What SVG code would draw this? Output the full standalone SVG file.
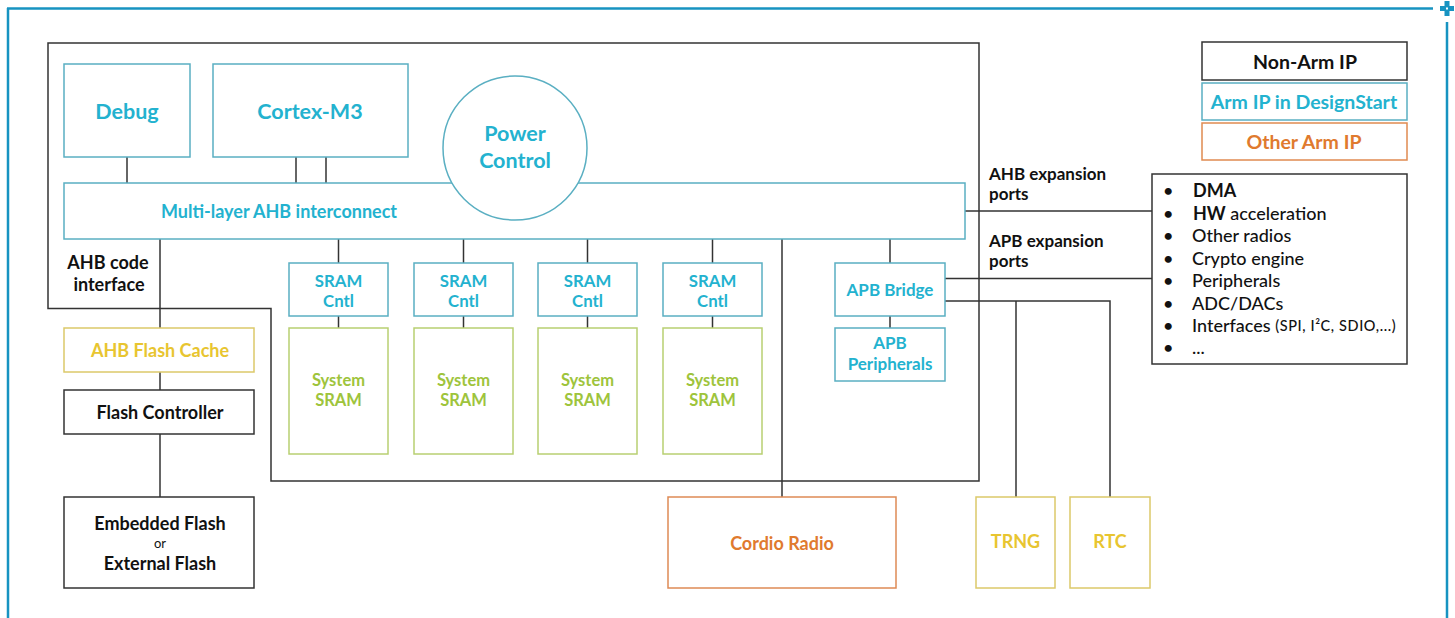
<svg xmlns="http://www.w3.org/2000/svg" width="1455" height="618" viewBox="0 0 1455 618">
<style>
text{font-family:Lato,"Liberation Sans",sans-serif;font-weight:700;text-anchor:middle;dominant-baseline:central}
.ln{stroke:#333;stroke-width:1.5;fill:none}
.teal{fill:#fff;stroke:#5aafc2;stroke-width:1.5}
.tt{fill:#23b2cf}
.blk{fill:#fff;stroke:#333;stroke-width:1.5}
.bt{fill:#111}
.grn{fill:#fff;stroke:#b8cf72;stroke-width:1.5}
.gt{fill:#9ec43c}
.yel{fill:#fff;stroke:#dcc96a;stroke-width:1.5}
.yt{fill:#e8c530}
.org{fill:#fff;stroke:#de8a55;stroke-width:1.5}
.ot{fill:#e07a2e}
.lt{text-anchor:start;fill:#111;font-weight:500}
.pl{text-anchor:start;fill:#111;font-weight:700}
.sm{fill:#111;font-weight:400}
</style>
<g id="frame" fill="none" stroke="#1793c1" stroke-width="2.5">
<line x1="7" y1="8.5" x2="1433" y2="8.5"/>
<line x1="8" y1="8" x2="8" y2="618"/>
<line x1="1447" y1="22" x2="1447" y2="618"/>
</g>
<g id="plus" fill="#1793c1"><rect x="1440" y="6" width="14" height="5"/><rect x="1444.5" y="1" width="5" height="15"/><rect x="1446" y="7.5" width="2" height="2" fill="#fff"/></g>
<g id="soc"><path class="ln" d="M48 43 H979 V481 H271 V308.5 H48 Z"/></g>
<g id="connectors" class="ln">
<line x1="127" y1="157" x2="127" y2="183"/>
<line x1="296" y1="157" x2="296" y2="183"/>
<line x1="326" y1="157" x2="326" y2="183"/>
<line x1="160" y1="239" x2="160" y2="328"/>
<line x1="160" y1="372" x2="160" y2="390"/>
<line x1="160" y1="434" x2="160" y2="497"/>
<line x1="338.5" y1="239" x2="338.5" y2="263"/>
<line x1="463.5" y1="239" x2="463.5" y2="263"/>
<line x1="587.5" y1="239" x2="587.5" y2="263"/>
<line x1="712.5" y1="239" x2="712.5" y2="263"/>
<line x1="338.5" y1="316" x2="338.5" y2="328"/>
<line x1="463.5" y1="316" x2="463.5" y2="328"/>
<line x1="587.5" y1="316" x2="587.5" y2="328"/>
<line x1="712.5" y1="316" x2="712.5" y2="328"/>
<line x1="782" y1="239" x2="782" y2="497"/>
<line x1="890" y1="239" x2="890" y2="263"/>
<line x1="890" y1="316" x2="890" y2="328"/>
<line x1="965" y1="211" x2="1152" y2="211"/>
<line x1="945" y1="278.5" x2="1152" y2="278.5"/>
<polyline points="945,301 1110,301 1110,497"/>
<line x1="1016" y1="301" x2="1016" y2="497"/>
</g>
<g id="debug"><rect class="teal" x="64" y="64" width="126" height="93"/><text class="tt" x="127" y="111" font-size="21.5">Debug</text></g>
<g id="cortex"><rect class="teal" x="213" y="64" width="195" height="93"/><text class="tt" x="310" y="111" font-size="21.5">Cortex-M3</text></g>
<g id="interconnect"><rect class="teal" x="64" y="183" width="901" height="56"/><text class="tt" x="279" y="211" font-size="18">Multi-layer AHB interconnect</text></g>
<g id="power"><circle class="teal" cx="515" cy="148" r="72"/><text class="tt" x="515" y="133" font-size="21.5">Power</text><text class="tt" x="515" y="160" font-size="21.5">Control</text></g>
<g id="ahbcode"><text class="bt" x="108" y="262" font-size="18">AHB code</text><text class="bt" x="109" y="284" font-size="18">interface</text></g>
<g id="flashcache"><rect class="yel" x="64" y="328" width="190" height="44"/><text class="yt" x="160" y="350" font-size="18">AHB Flash Cache</text></g>
<g id="flashctl"><rect class="blk" x="64" y="390" width="190" height="44"/><text class="bt" x="160" y="412" font-size="18">Flash Controller</text></g>
<g id="flash"><rect class="blk" x="64" y="497" width="190" height="91"/><text class="bt" x="160" y="523" font-size="18">Embedded Flash</text><text class="sm" x="160" y="543" font-size="13">or</text><text class="bt" x="160" y="563" font-size="18">External Flash</text></g>
<g id="sramc1"><rect class="teal" x="289" y="263" width="99" height="53"/><text class="tt" x="338.5" y="280" font-size="16.8">SRAM</text><text class="tt" x="338.5" y="300" font-size="16.8">Cntl</text></g>
<g id="sramc2"><rect class="teal" x="414" y="263" width="99" height="53"/><text class="tt" x="463.5" y="280" font-size="16.8">SRAM</text><text class="tt" x="463.5" y="300" font-size="16.8">Cntl</text></g>
<g id="sramc3"><rect class="teal" x="538" y="263" width="99" height="53"/><text class="tt" x="587.5" y="280" font-size="16.8">SRAM</text><text class="tt" x="587.5" y="300" font-size="16.8">Cntl</text></g>
<g id="sramc4"><rect class="teal" x="663" y="263" width="99" height="53"/><text class="tt" x="712.5" y="280" font-size="16.8">SRAM</text><text class="tt" x="712.5" y="300" font-size="16.8">Cntl</text></g>
<g id="sram1"><rect class="grn" x="289" y="328" width="99" height="126"/><text class="gt" x="338.5" y="380" font-size="16.5">System</text><text class="gt" x="338.5" y="400" font-size="16.5">SRAM</text></g>
<g id="sram2"><rect class="grn" x="414" y="328" width="99" height="126"/><text class="gt" x="463.5" y="380" font-size="16.5">System</text><text class="gt" x="463.5" y="400" font-size="16.5">SRAM</text></g>
<g id="sram3"><rect class="grn" x="538" y="328" width="99" height="126"/><text class="gt" x="587.5" y="380" font-size="16.5">System</text><text class="gt" x="587.5" y="400" font-size="16.5">SRAM</text></g>
<g id="sram4"><rect class="grn" x="663" y="328" width="99" height="126"/><text class="gt" x="712.5" y="380" font-size="16.5">System</text><text class="gt" x="712.5" y="400" font-size="16.5">SRAM</text></g>
<g id="apbbridge"><rect class="teal" x="835" y="263" width="110" height="53"/><text class="tt" x="890" y="289" font-size="17">APB Bridge</text></g>
<g id="apbperiph"><rect class="teal" x="835" y="328" width="110" height="53"/><text class="tt" x="890" y="342" font-size="17">APB</text><text class="tt" x="890" y="363" font-size="17">Peripherals</text></g>
<g id="cordio"><rect class="org" x="668" y="497" width="228" height="91"/><text class="ot" x="782" y="543" font-size="18">Cordio Radio</text></g>
<g id="trng"><rect class="yel" x="976" y="497" width="79" height="91"/><text class="yt" x="1015.5" y="541" font-size="18">TRNG</text></g>
<g id="rtc"><rect class="yel" x="1070" y="497" width="80" height="91"/><text class="yt" x="1110" y="541" font-size="18">RTC</text></g>
<g id="portlabels"><text class="pl" x="989" y="173" font-size="17">AHB expansion</text><text class="pl" x="989" y="193" font-size="17">ports</text><text class="pl" x="989" y="240" font-size="17">APB expansion</text><text class="pl" x="989" y="260" font-size="17">ports</text></g>
<g id="list"><rect class="blk" x="1152" y="174" width="255" height="190"/>
<g font-size="18">
<text class="lt" x="1163" y="190">•</text><text class="lt" x="1193" y="190"><tspan font-weight="700">DMA</tspan></text>
<text class="lt" x="1163" y="212.5">•</text><text class="lt" x="1193" y="212.5"><tspan font-weight="700">HW</tspan> acceleration</text>
<text class="lt" x="1163" y="235">•</text><text class="lt" x="1192" y="235">Other radios</text>
<text class="lt" x="1163" y="257.5">•</text><text class="lt" x="1192" y="257.5">Crypto engine</text>
<text class="lt" x="1163" y="280">•</text><text class="lt" x="1192" y="280">Peripherals</text>
<text class="lt" x="1163" y="302.5">•</text><text class="lt" x="1192" y="302.5">ADC/DACs</text>
<text class="lt" x="1163" y="325">•</text><text class="lt" x="1192" y="325">Interfaces <tspan font-size="14.5" letter-spacing="0.6">(SPI, I²C, SDIO,...)</tspan></text>
<text class="lt" x="1163" y="347">•</text><text class="lt" x="1192" y="347">...</text>
</g></g>
<g id="legend">
<rect class="blk" x="1202" y="42" width="205" height="38"/><text class="bt" x="1305" y="61" font-size="19.5">Non-Arm IP</text>
<rect class="teal" x="1202" y="83" width="205" height="37"/><text class="tt" x="1304" y="101" font-size="19.5">Arm IP in DesignStart</text>
<rect x="1202" y="123" width="205" height="37" fill="#fff" stroke="#e08a50" stroke-width="1.5"/><text class="ot" x="1304" y="141" font-size="19.5">Other Arm IP</text>
</g>
</svg>
